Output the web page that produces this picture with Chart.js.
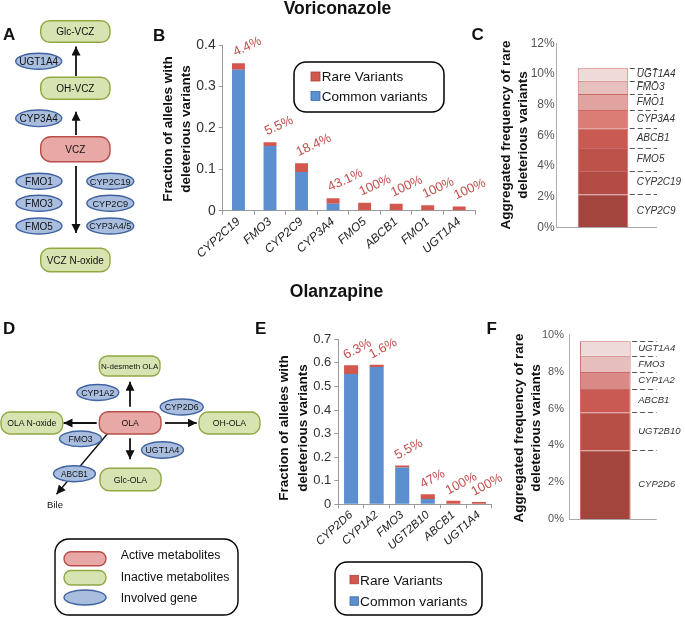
<!DOCTYPE html>
<html><head><meta charset="utf-8">
<script src="https://cdn.jsdelivr.net/npm/chart.js@4.4.1/dist/chart.umd.min.js"></script>
<style>
html,body{margin:0;padding:0;background:#fff;}
#root{position:relative;width:685px;height:617px;overflow:hidden;background:#fff;font-family:"Liberation Sans",Arial,Helvetica,sans-serif;}
canvas{position:absolute;}
svg{position:absolute;left:0;top:0;}
svg text{font-family:"Liberation Sans",Arial,Helvetica,sans-serif;fill:#111;}
</style></head><body><div id="root">
<canvas id="cB" width="350" height="240" style="left:140px;top:20px"></canvas>
<canvas id="cC" width="225" height="240" style="left:460px;top:20px"></canvas>
<canvas id="cE" width="230" height="250" style="left:280px;top:300px"></canvas>
<canvas id="cF" width="195" height="250" style="left:490px;top:300px"></canvas>
<svg width="685" height="617" xmlns="http://www.w3.org/2000/svg">
<defs>
<marker id="ah" markerUnits="userSpaceOnUse" markerWidth="10" markerHeight="10" refX="9" refY="4.5" orient="auto">
<path d="M0,0 L9,4.5 L0,9 z" fill="#111"/></marker>
</defs>
<!-- titles -->
<text x="337.5" y="14.3" font-size="17.5" font-weight="bold" text-anchor="middle">Voriconazole</text>
<text x="336.5" y="297.3" font-size="17.5" font-weight="bold" text-anchor="middle">Olanzapine</text>
<!-- panel letters -->
<g font-size="17" font-weight="bold">
<text x="3" y="40">A</text><text x="153" y="40.7">B</text><text x="471.5" y="40.3">C</text>
<text x="3" y="334.3">D</text><text x="255" y="334.3">E</text><text x="486.5" y="333.5">F</text>
</g>
<!-- axis titles -->
<g font-size="13.5" font-weight="bold" text-anchor="middle">
<text transform="translate(171.5,129) rotate(-90)">Fraction of alleles with</text>
<text transform="translate(190,129) rotate(-90)">deleterious variants</text>
<text transform="translate(509.5,135) rotate(-90)">Aggregated frequency of rare</text>
<text transform="translate(526.5,135) rotate(-90)">deleterious variants</text>
<text transform="translate(288.2,428) rotate(-90)">Fraction of alleles with</text>
<text transform="translate(306.7,428) rotate(-90)">deleterious variants</text>
<text transform="translate(523,428) rotate(-90)">Aggregated frequency of rare</text>
<text transform="translate(540,428) rotate(-90)">deleterious variants</text>
</g>
<!-- legends B and E -->
<rect x="294" y="62" width="150" height="50" rx="12" fill="none" stroke="#000" stroke-width="1.5"/>
<rect x="311" y="72" width="9" height="9" fill="#d2574e" stroke="#a8423b" stroke-width="0.8"/>
<rect x="311" y="91.5" width="9" height="9" fill="#5b8fd0" stroke="#3f6aa3" stroke-width="0.8"/>
<text x="321.7" y="81.4" font-size="13.5">Rare Variants</text>
<text x="321.7" y="100.9" font-size="13.5">Common variants</text>
<rect x="335" y="562" width="147" height="53" rx="12" fill="none" stroke="#000" stroke-width="1.5"/>
<rect x="350" y="575.3" width="8.5" height="8.5" fill="#d2574e" stroke="#a8423b" stroke-width="0.8"/>
<rect x="350" y="596.8" width="8.5" height="8.5" fill="#5b8fd0" stroke="#3f6aa3" stroke-width="0.8"/>
<text x="360" y="584.8" font-size="13.7">Rare Variants</text>
<text x="360" y="606.3" font-size="13.7">Common variants</text>
<!-- Diagram A -->
<g stroke-width="1.4">
<line x1="76" y1="76" x2="76" y2="46.5" stroke="#111" stroke-width="1.8" marker-end="url(#ah)"/>
<line x1="76" y1="135" x2="76" y2="111.7" stroke="#111" stroke-width="1.8" marker-end="url(#ah)"/>
<line x1="76" y1="166" x2="76" y2="233" stroke="#111" stroke-width="1.8" marker-end="url(#ah)"/>
<rect x="40.7" y="20.7" width="69.3" height="21.6" rx="9" fill="#d7e4b1" stroke="#8fa844"/>
<rect x="40.7" y="77.3" width="69.3" height="22" rx="9" fill="#d7e4b1" stroke="#8fa844"/>
<rect x="40.7" y="136.7" width="69.3" height="25" rx="10" fill="#e8a9a6" stroke="#b5504b"/>
<rect x="40.7" y="248.3" width="69.3" height="23.4" rx="9" fill="#d7e4b1" stroke="#8fa844"/>
<ellipse cx="38.7" cy="61.3" rx="23" ry="8" fill="#a9bedf" stroke="#3f62a0"/>
<ellipse cx="38.7" cy="118.3" rx="23" ry="8.3" fill="#a9bedf" stroke="#3f62a0"/>
<ellipse cx="39" cy="181.3" rx="23" ry="8" fill="#a9bedf" stroke="#3f62a0"/>
<ellipse cx="39" cy="203.3" rx="23" ry="8" fill="#a9bedf" stroke="#3f62a0"/>
<ellipse cx="39" cy="226" rx="23" ry="8" fill="#a9bedf" stroke="#3f62a0"/>
<ellipse cx="110.3" cy="181.3" rx="23.5" ry="8" fill="#a9bedf" stroke="#3f62a0"/>
<ellipse cx="110.3" cy="203.3" rx="23.5" ry="8" fill="#a9bedf" stroke="#3f62a0"/>
<ellipse cx="110.3" cy="226" rx="23.5" ry="8" fill="#a9bedf" stroke="#3f62a0"/>
</g>
<g font-size="10" text-anchor="middle">
<text x="75.3" y="35">Glc-VCZ</text>
<text x="75.3" y="91.8">OH-VCZ</text>
<text x="75.3" y="152.7">VCZ</text>
<text x="75.3" y="263.5">VCZ N-oxide</text>
<text x="38.7" y="64.8">UGT1A4</text>
<text x="38.7" y="121.8">CYP3A4</text>
<text x="39" y="184.8">FMO1</text>
<text x="39" y="206.8">FMO3</text>
<text x="39" y="229.5">FMO5</text>
<text x="110.3" y="184.6" font-size="9.2">CYP2C19</text>
<text x="110.3" y="206.6" font-size="9.2">CYP2C9</text>
<text x="110.3" y="229.3" font-size="9">CYP3A4/5</text>
</g>
<!-- Diagram D -->
<g stroke-width="1.4">
<line x1="130" y1="406.7" x2="130" y2="381.7" stroke="#111" stroke-width="1.8" marker-end="url(#ah)"/>
<line x1="96.7" y1="423" x2="63.5" y2="423" stroke="#111" stroke-width="1.8" marker-end="url(#ah)"/>
<line x1="165" y1="423" x2="196.7" y2="423" stroke="#111" stroke-width="1.8" marker-end="url(#ah)"/>
<line x1="130" y1="438.3" x2="130" y2="459.3" stroke="#111" stroke-width="1.8" marker-end="url(#ah)"/>
<line x1="108.3" y1="432.7" x2="56.5" y2="494.3" stroke="#111" stroke-width="1.4" marker-end="url(#ah)"/>
<rect x="99.3" y="356" width="60.7" height="20" rx="8" fill="#d7e4b1" stroke="#8fa844"/>
<rect x="99.3" y="411.7" width="61.7" height="22.3" rx="9" fill="#e8a9a6" stroke="#b5504b"/>
<rect x="1" y="412" width="61.7" height="22" rx="9" fill="#d7e4b1" stroke="#8fa844"/>
<rect x="199" y="412" width="61" height="22" rx="9" fill="#d7e4b1" stroke="#8fa844"/>
<rect x="100" y="468.3" width="61" height="22.4" rx="9" fill="#d7e4b1" stroke="#8fa844"/>
<ellipse cx="97.8" cy="392.5" rx="21" ry="8" fill="#a9bedf" stroke="#3f62a0"/>
<ellipse cx="80.5" cy="438.8" rx="21" ry="7.8" fill="#a9bedf" stroke="#3f62a0"/>
<ellipse cx="181.7" cy="407" rx="21.5" ry="8" fill="#a9bedf" stroke="#3f62a0"/>
<ellipse cx="162.5" cy="450" rx="21" ry="8.2" fill="#a9bedf" stroke="#3f62a0"/>
<ellipse cx="74.5" cy="473.7" rx="21" ry="8" fill="#a9bedf" stroke="#3f62a0"/>
</g>
<g font-size="8.7" text-anchor="middle">
<text x="129.7" y="369" font-size="8">N-desmeth OLA</text>
<text x="130.2" y="426">OLA</text>
<text x="31.8" y="426">OLA N-oxide</text>
<text x="229.5" y="426">OH-OLA</text>
<text x="130.5" y="482.5">Glc-OLA</text>
<text x="97.8" y="395.7">CYP1A2</text>
<text x="80.5" y="442">FMO3</text>
<text x="181.7" y="410.2">CYP2D6</text>
<text x="162.5" y="453.2">UGT1A4</text>
<text x="74.5" y="476.9" font-size="8.2">ABCB1</text>
<text x="55" y="507.5" font-size="9.5">Bile</text>
</g>
<!-- Legend D -->
<rect x="55" y="539" width="183" height="76" rx="14" fill="none" stroke="#000" stroke-width="1.4"/>
<rect x="64" y="551.7" width="42" height="14" rx="7" fill="#e8a9a6" stroke="#b5504b" stroke-width="1.4"/>
<rect x="64" y="570.5" width="42" height="14.5" rx="7" fill="#d7e4b1" stroke="#8fa844" stroke-width="1.4"/>
<ellipse cx="85" cy="597.5" rx="21" ry="7.5" fill="#a9bedf" stroke="#3f62a0" stroke-width="1.4"/>
<g font-size="12.3">
<text x="120.7" y="558.7">Active metabolites</text>
<text x="120.7" y="581">Inactive metabolites</text>
<text x="120.7" y="602">Involved gene</text>
</g>
</svg>
</div>
<script>
const FONT = '"Liberation Sans", Arial, Helvetica, sans-serif';

// ---------- data ----------
const voriGenes   = ['CYP2C19','FMO3','CYP2C9','CYP3A4','FMO5','ABCB1','FMO1','UGT1A4'];
const voriCommon  = [0.340, 0.156, 0.0935, 0.017, 0, 0, 0, 0];
const voriRare    = [0.016, 0.009, 0.021, 0.013, 0.019, 0.017, 0.013, 0.010];
const voriRarePct = ['4.4%','5.5%','18.4%','43.1%','100%','100%','100%','100%'];

const olaGenes    = ['CYP2D6','CYP1A2','FMO3','UGT2B10','ABCB1','UGT1A4'];
const olaCommon   = [0.553, 0.583, 0.156, 0.0225, 0, 0];
const olaRare     = [0.037, 0.0095, 0.009, 0.020, 0.015, 0.010];
const olaRarePct  = ['6.3%','1.6%','5.5%','47%','100%','100%'];

const voriStackGenes = ['CYP2C9','CYP2C19','FMO5','ABCB1','CYP3A4','FMO1','FMO3','UGT1A4'];
const voriStackVals  = [2.15, 1.52, 1.50, 1.29, 1.19, 1.05, 0.86, 0.81];
const olaStackGenes  = ['CYP2D6','UGT2B10','ABCB1','CYP1A2','FMO3','UGT1A4'];
const olaStackVals   = [3.74, 2.06, 1.26, 0.92, 0.88, 0.78];

const barTicksB = {max:0.4, step:0.1};
const barTicksE = {max:0.7, step:0.1};
const stackTicksC = {max:12, step:2};
const stackTicksF = {max:10, step:2};

// ---------- styles ----------
const BLUE = '#5b8fd0', RED = '#d2574e', AXIS = '#9a9a9a', PCT = '#c0504d';
const voriStackColors = ['#a3443d','#b24b44','#bc5249','#c95a51','#d97d75','#e0a3a0','#e7c0bd','#efdad8'];
const olaStackColors  = ['#a3443d','#b84f47','#c95a51','#d98a86','#e6bfbc','#eedad9'];

const pctPlugin = {
  id:'pctLabels',
  afterDatasetsDraw(chart, args, opts){
    const ctx = chart.ctx, meta = chart.getDatasetMeta(1);
    ctx.save();
    ctx.fillStyle = PCT;
    ctx.font = opts.size + 'px ' + FONT;
    ctx.textAlign = 'left'; ctx.textBaseline = 'alphabetic';
    meta.data.forEach((bar, i) => {
      ctx.save();
      ctx.translate(bar.x + opts.dx, bar.y + opts.dy);
      ctx.rotate(-opts.angle * Math.PI / 180);
      ctx.fillText(opts.labels[i], 0, 0);
      ctx.restore();
    });
    ctx.restore();
  }
};

// labels + dashed leaders beside the stacked bar; the baseline axis is
// continued a little past the plot area as in the original figure
const stackPlugin = {
  id:'stackLabels',
  afterDatasetsDraw(chart, args, opts){
    const ctx = chart.ctx, area = chart.chartArea;
    const right = area.right + opts.ext;
    ctx.save();
    ctx.strokeStyle = '#a8a8a8'; ctx.lineWidth = 1;
    ctx.beginPath(); ctx.moveTo(area.right, Math.round(area.bottom) + 0.5);
    ctx.lineTo(right, Math.round(area.bottom) + 0.5); ctx.stroke();
    chart.data.datasets.forEach((ds, i) => {
      const el = chart.getDatasetMeta(i).data[0];
      const bx = el.x + el.width / 2;
      const y = Math.round(el.y) + 0.5;
      ctx.strokeStyle = '#555'; ctx.lineWidth = 1; ctx.setLineDash([5,3]);
      ctx.beginPath(); ctx.moveTo(bx + 1.5, y); ctx.lineTo(right, y); ctx.stroke();
      ctx.setLineDash([]);
      ctx.fillStyle = '#333';
      ctx.font = 'italic ' + opts.size + 'px ' + FONT;
      ctx.textAlign = 'left'; ctx.textBaseline = 'middle';
      ctx.fillText(ds.label, bx + opts.dx, (el.y + el.base) / 2);
    });
    ctx.restore();
  }
};

function barChart(id, labels, common, rare, pcts, ticks, o){
  return new Chart(document.getElementById(id), {
    type:'bar',
    data:{labels:labels, datasets:[
      {label:'Common variants', data:common, backgroundColor:BLUE, borderWidth:0, barPercentage:o.barPct, categoryPercentage:1},
      {label:'Rare Variants', data:rare, backgroundColor:RED, borderWidth:0, barPercentage:o.barPct, categoryPercentage:1}
    ]},
    options:{
      responsive:false, animation:false, devicePixelRatio:1,
      layout:{padding:{left:0, right:o.padR, top:o.padT, bottom:0}},
      plugins:{legend:{display:false}, tooltip:{enabled:false},
        pctLabels:{labels:pcts, size:o.pctSize, dx:o.pctDx, dy:o.pctDy, angle:o.pctAngle}},
      scales:{
        x:{stacked:true, afterFit:s=>{s.height=o.xH;},
          grid:{display:true, drawOnChartArea:false, drawTicks:true, tickLength:4, color:AXIS, offset:true},
          border:{color:AXIS, width:1},
          ticks:{autoSkip:false, minRotation:o.rot, maxRotation:o.rot, padding:0, color:'#222',
            font:{family:FONT, size:o.xFont, style:'italic'}}},
        y:{stacked:true, min:0, max:ticks.max, afterFit:s=>{s.width=o.yW;},
          grid:{display:true, drawOnChartArea:false, drawTicks:true, tickLength:4, color:AXIS},
          border:{color:AXIS, width:1},
          ticks:{stepSize:ticks.step, padding:3, color:'#333', font:{family:FONT, size:o.yFont}}}
      }
    },
    plugins:[pctPlugin]
  });
}

function stackChart(id, genes, vals, colors, ticks, o){
  return new Chart(document.getElementById(id), {
    type:'bar',
    data:{labels:[''], datasets: genes.map((g,i)=>({
      label:g, data:[vals[i]], backgroundColor:colors[i], borderColor:'rgba(192,80,77,0.85)', borderWidth:1,
      barPercentage:o.barPct, categoryPercentage:1}))},
    options:{
      responsive:false, animation:false, devicePixelRatio:1,
      layout:{padding:{left:0, right:o.padR, top:o.padT, bottom:o.padB}},
      plugins:{legend:{display:false}, tooltip:{enabled:false}, stackLabels:{size:o.lblSize, dx:o.lblDx, ext:o.ext}},
      scales:{
        x:{stacked:true, afterFit:s=>{s.height=0;}, grid:{display:false, drawTicks:false, tickLength:0}, ticks:{display:false},
          border:{color:'#a8a8a8', width:1}},
        y:{stacked:true, min:0, max:ticks.max, afterFit:s=>{s.width=o.yW;},
          grid:{display:false, drawTicks:false, tickLength:0}, border:{color:'#b0b0b0', width:1},
          ticks:{stepSize:ticks.step, padding:o.tickPad, color:'#555', font:{family:FONT, size:o.yFont},
            callback:v=>v+'%'}}
      }
    },
    plugins:[stackPlugin]
  });
}

barChart('cB', voriGenes, voriCommon, voriRare, voriRarePct, barTicksB,
  {barPct:0.41, padR:15, padT:25, xH:49.3, yW:82.7, rot:42, xFont:12, yFont:14,
   pctSize:13, pctDx:-3, pctDy:-7, pctAngle:25});
barChart('cE', olaGenes, olaCommon, olaRare, olaRarePct, barTicksE,
  {barPct:0.55, padR:18.3, padT:39.3, xH:45.7, yW:58.3, rot:42, xFont:11.5, yFont:13,
   pctSize:13, pctDx:-5, pctDy:-6, pctAngle:28});
stackChart('cC', voriStackGenes, voriStackVals, voriStackColors, stackTicksC,
  {barPct:0.546, padR:35.7, padT:23.3, padB:32.7, yW:96.7, yFont:12, tickPad:2, lblSize:10, lblDx:8.4, ext:7.7});
stackChart('cF', olaStackGenes, olaStackVals, olaStackColors, stackTicksF,
  {barPct:0.698, padR:43.4, padT:34.7, padB:30.7, yW:79, yFont:11, tickPad:5, lblSize:9.5, lblDx:7.6, ext:15.1});
</script>
</body></html>
